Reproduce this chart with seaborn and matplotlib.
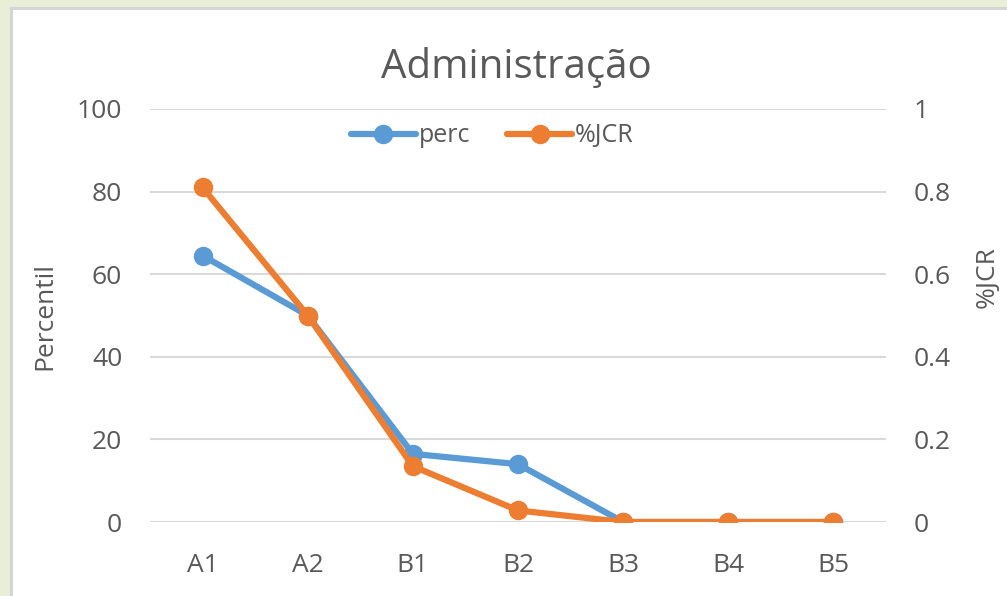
import pandas as pd
import seaborn as sns
import matplotlib.pyplot as plt
from matplotlib.patches import Rectangle

# values
categories = ["A1", "A2", "B1", "B2", "B3", "B4", "B5"]
perc = [64.5, 50, 16.5, 14, 0, 0, 0]
jcr = [0.81, 0.50, 0.135, 0.028, 0, 0, 0]
left_ticks = [0, 20, 40, 60, 80, 100]
right_ticks = [0, 0.2, 0.4, 0.6, 0.8, 1]
right_labels = ["0", "0.2", "0.4", "0.6", "0.8", "1"]

df = pd.DataFrame({"cat": categories, "perc": perc, "jcr": jcr})

sns.set_theme(style="white")
plt.rcParams['font.family'] = ['Open Sans', 'DejaVu Sans']
txt = '#595959'
blue = '#5B9BD5'
orange = '#ED7D31'

W, H = 1007, 596
fig = plt.figure(figsize=(W / 100, H / 100), dpi=100, facecolor='#E8EED8')
# white chart panel, behind the axes
fig.patches.append(Rectangle((11 / W, -0.1), 1.1, 1 - 8 / H + 0.1,
                             transform=fig.transFigure, facecolor='white',
                             edgecolor='#D4D4D4', linewidth=2.2, zorder=-5))

ax = fig.add_axes([150 / W, 1 - 522 / H, (886 - 150) / W, (522 - 109) / H])
ax.set_facecolor('none')
ax2 = ax.twinx()

sns.lineplot(data=df, x='cat', y='perc', ax=ax, color=blue, linewidth=4.5,
             marker='o', markersize=14, markeredgewidth=0, label='perc', legend=False)
sns.lineplot(data=df, x='cat', y='jcr', ax=ax2, color=orange, linewidth=4.5,
             marker='o', markersize=14, markeredgewidth=0, label='%JCR', legend=False)

ax.set_xlim(-0.5, 6.5)
ax.set_ylim(0, 100)
ax2.set_ylim(0, 1)
ax.set_yticks(left_ticks)
ax2.set_yticks(right_ticks)
ax2.set_yticklabels(right_labels)

for a in (ax, ax2):
    for s in a.spines.values():
        s.set_visible(False)
    a.tick_params(length=0, labelsize=19, colors=txt)
ax.tick_params(axis='y', pad=20)
ax2.tick_params(axis='y', pad=20)
ax.tick_params(axis='x', pad=22)

ax.grid(axis='y', color='#D9D9D9', linewidth=1.5)
ax.set_axisbelow(True)

ax.set_xlabel('')
ax.set_ylabel('Percentil', fontsize=19, color=txt)
ax.yaxis.set_label_coords(-0.126, 0.5)
ax2.set_ylabel('%JCR', fontsize=19, color=txt)
ax2.yaxis.set_label_coords(1.12, 0.593)

fig.text(516 / W, 1 - 67 / H, 'Administração', fontsize=29, color=txt,
         ha='center', va='center')

h1, l1 = ax.get_legend_handles_labels()
h2, l2 = ax2.get_legend_handles_labels()
ax2.legend(h1 + h2, l1 + l2, loc='center', bbox_to_anchor=(0.465, 0.935),
           ncol=2, frameon=False, fontsize=18, labelcolor=txt,
           handlelength=2.6, handletextpad=0.1, columnspacing=1.5)

fig.savefig('out.png', dpi=100, facecolor=fig.get_facecolor())
